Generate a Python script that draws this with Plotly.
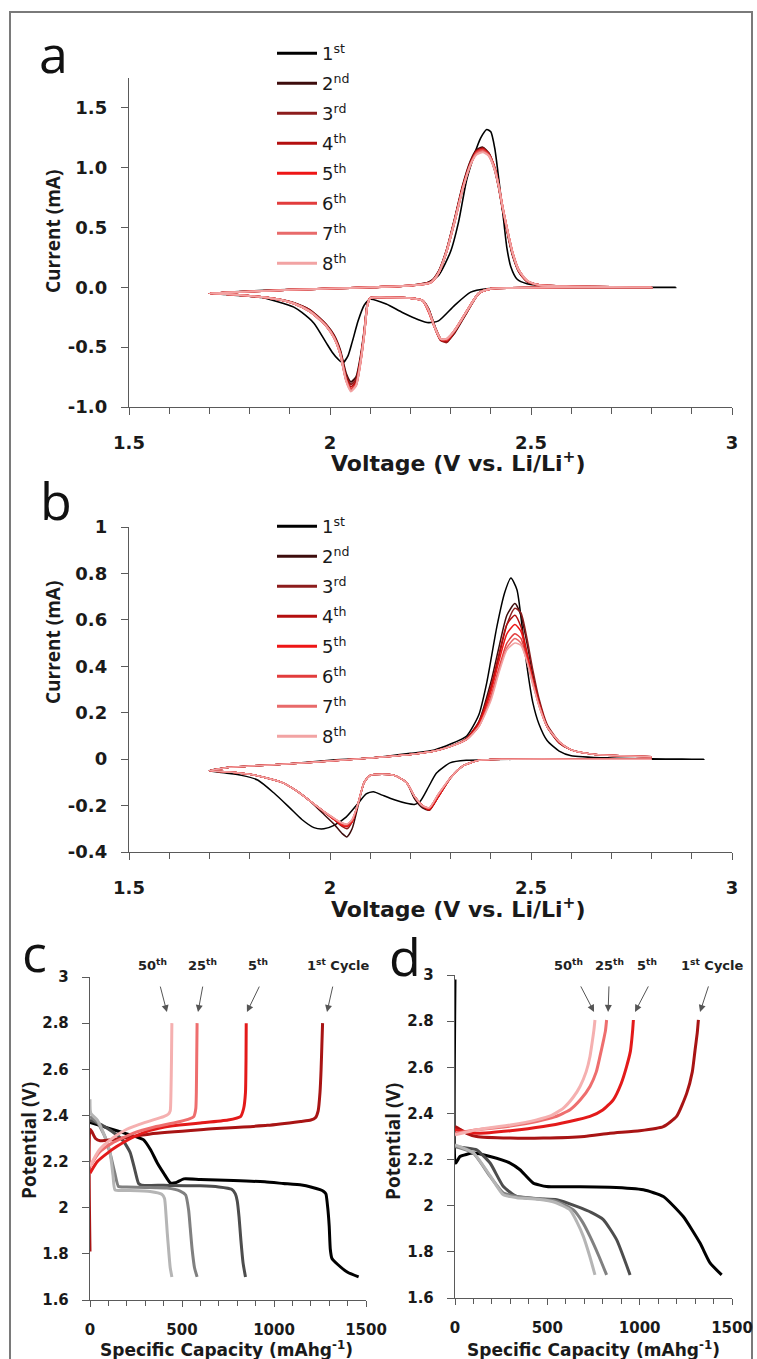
import plotly.graph_objects as go

W, H = 757, 1359

# ---------------- data: panel a (CV, cycles 1-8) ----------------
va_1 = [2.86, 2.60, 2.45, 2.39, 2.35, 2.31, 2.27, 2.245, 2.22, 2.18, 2.14, 2.10, 2.085, 2.07, 2.055, 2.045,
        2.032, 2.02, 2.005, 1.99, 1.96, 1.93, 1.91, 1.87, 1.83, 1.78, 1.74, 1.70,
        1.75, 1.80, 1.90, 2.00, 2.10, 2.20, 2.24, 2.27, 2.30, 2.32, 2.34, 2.36, 2.375, 2.39, 2.40, 2.41,
        2.42, 2.43, 2.44, 2.45, 2.465, 2.49, 2.53, 2.60, 2.70, 2.86]
ia_1 = [0.0, 0.0, -0.005, -0.012, -0.04, -0.15, -0.28, -0.295, -0.27, -0.21, -0.14, -0.1, -0.15, -0.28, -0.46, -0.57,
        -0.63, -0.6, -0.54, -0.46, -0.3, -0.21, -0.165, -0.12, -0.085, -0.07, -0.06, -0.05,
        -0.04, -0.03, -0.018, -0.01, 0.0, 0.015, 0.035, 0.1, 0.3, 0.55, 0.9, 1.12, 1.25, 1.32, 1.3, 1.16,
        0.9, 0.62, 0.33, 0.17, 0.07, 0.03, 0.015, 0.008, 0.003, 0.0]

va_red = [2.80, 2.60, 2.45, 2.40, 2.37, 2.34, 2.31, 2.29, 2.275, 2.26, 2.245, 2.23, 2.20, 2.15, 2.10, 2.093,
          2.085, 2.075, 2.065, 2.052, 2.04, 2.025, 2.01, 1.99, 1.975, 1.95, 1.91, 1.87, 1.83, 1.78, 1.74, 1.70,
          1.80, 1.90, 2.00, 2.10, 2.20, 2.25, 2.27, 2.29, 2.31, 2.33, 2.35, 2.365, 2.38, 2.395, 2.41, 2.42,
          2.43, 2.445, 2.455, 2.47, 2.49, 2.52, 2.60, 2.70, 2.80]
ia_2 = [0.0, 0.0, -0.005, -0.012, -0.05, -0.21, -0.38, -0.45, -0.43, -0.32, -0.18, -0.11, -0.09, -0.085, -0.09, -0.14,
        -0.37, -0.6, -0.75, -0.79, -0.72, -0.52, -0.4, -0.31, -0.26, -0.19, -0.13, -0.1, -0.08, -0.065, -0.055, -0.05,
        -0.035, -0.02, -0.01, 0.0, 0.015, 0.045, 0.13, 0.31, 0.57, 0.85, 1.06, 1.15, 1.17, 1.12, 0.98, 0.83,
        0.64, 0.4, 0.26, 0.13, 0.05, 0.02, 0.008, 0.003, 0.0]
ia_3 = [0.0, 0.0, -0.005, -0.012, -0.05, -0.21, -0.37, -0.46, -0.44, -0.33, -0.18, -0.11, -0.09, -0.085, -0.09, -0.14,
        -0.38, -0.62, -0.77, -0.81, -0.74, -0.53, -0.41, -0.31, -0.26, -0.19, -0.13, -0.1, -0.08, -0.065, -0.055, -0.05,
        -0.035, -0.02, -0.01, 0.0, 0.015, 0.045, 0.13, 0.31, 0.56, 0.84, 1.05, 1.14, 1.16, 1.12, 0.99, 0.84,
        0.65, 0.41, 0.27, 0.13, 0.05, 0.02, 0.008, 0.003, 0.0]
ia_4 = [0.0, 0.0, -0.005, -0.012, -0.05, -0.2, -0.37, -0.45, -0.44, -0.33, -0.19, -0.11, -0.09, -0.085, -0.09, -0.15,
        -0.39, -0.63, -0.79, -0.83, -0.76, -0.54, -0.41, -0.32, -0.27, -0.2, -0.135, -0.1, -0.08, -0.065, -0.055, -0.05,
        -0.035, -0.02, -0.01, 0.0, 0.015, 0.04, 0.12, 0.3, 0.56, 0.83, 1.04, 1.14, 1.16, 1.11, 0.99, 0.84,
        0.65, 0.41, 0.27, 0.14, 0.055, 0.02, 0.008, 0.003, 0.0]
ia_5 = [0.0, 0.0, -0.005, -0.012, -0.05, -0.2, -0.36, -0.44, -0.43, -0.33, -0.2, -0.11, -0.09, -0.085, -0.09, -0.15,
        -0.39, -0.64, -0.81, -0.85, -0.77, -0.55, -0.42, -0.32, -0.27, -0.2, -0.135, -0.1, -0.08, -0.065, -0.055, -0.05,
        -0.035, -0.02, -0.01, 0.0, 0.015, 0.04, 0.12, 0.3, 0.55, 0.83, 1.03, 1.13, 1.15, 1.11, 0.99, 0.84,
        0.66, 0.42, 0.28, 0.14, 0.055, 0.02, 0.008, 0.003, 0.0]
ia_6 = [0.0, 0.0, -0.005, -0.012, -0.05, -0.2, -0.36, -0.44, -0.43, -0.33, -0.2, -0.11, -0.09, -0.085, -0.09, -0.15,
        -0.4, -0.64, -0.81, -0.85, -0.77, -0.55, -0.42, -0.32, -0.27, -0.2, -0.135, -0.1, -0.08, -0.065, -0.055, -0.05,
        -0.035, -0.02, -0.01, 0.0, 0.015, 0.04, 0.12, 0.3, 0.55, 0.82, 1.03, 1.13, 1.15, 1.11, 1.0, 0.85,
        0.66, 0.42, 0.28, 0.14, 0.055, 0.02, 0.008, 0.003, 0.0]
ia_7 = [0.0, 0.0, -0.005, -0.012, -0.05, -0.2, -0.36, -0.43, -0.43, -0.33, -0.19, -0.11, -0.09, -0.085, -0.09, -0.15,
        -0.4, -0.65, -0.82, -0.86, -0.78, -0.55, -0.42, -0.32, -0.27, -0.2, -0.135, -0.1, -0.08, -0.065, -0.055, -0.05,
        -0.035, -0.02, -0.01, 0.0, 0.015, 0.04, 0.12, 0.3, 0.55, 0.82, 1.03, 1.12, 1.14, 1.1, 0.98, 0.84,
        0.66, 0.42, 0.28, 0.14, 0.055, 0.02, 0.008, 0.003, 0.0]
ia_8 = [0.0, 0.0, -0.005, -0.012, -0.05, -0.2, -0.36, -0.43, -0.43, -0.33, -0.19, -0.11, -0.09, -0.085, -0.09, -0.15,
        -0.4, -0.65, -0.82, -0.87, -0.78, -0.55, -0.42, -0.32, -0.27, -0.2, -0.135, -0.1, -0.08, -0.065, -0.055, -0.05,
        -0.035, -0.02, -0.01, 0.0, 0.015, 0.04, 0.12, 0.3, 0.55, 0.82, 1.03, 1.11, 1.13, 1.1, 0.98, 0.84,
        0.66, 0.42, 0.28, 0.14, 0.06, 0.02, 0.008, 0.003, 0.0]

# ---------------- data: panel b (CV, cycles 1-8) ----------------
vb_1 = [2.93, 2.70, 2.50, 2.40, 2.34, 2.30, 2.265, 2.245, 2.225, 2.21, 2.19, 2.16, 2.13, 2.108, 2.09, 2.07,
        2.04, 2.01, 1.985, 1.96, 1.93, 1.90, 1.86, 1.82, 1.78, 1.74, 1.70,
        1.75, 1.80, 1.90, 2.00, 2.10, 2.20, 2.26, 2.30, 2.34, 2.37, 2.39, 2.415, 2.435, 2.45, 2.465, 2.478,
        2.49, 2.505, 2.52, 2.54, 2.57, 2.60, 2.70, 2.80, 2.93]
ib_1 = [0.0, 0.0, 0.0, -0.002, -0.005, -0.015, -0.06, -0.12, -0.18, -0.195, -0.19, -0.175, -0.155, -0.14, -0.15, -0.19,
        -0.25, -0.285, -0.3, -0.295, -0.26, -0.21, -0.145, -0.09, -0.07, -0.06, -0.05,
        -0.035, -0.03, -0.02, -0.005, 0.005, 0.025, 0.04, 0.065, 0.1, 0.19, 0.33, 0.57, 0.72, 0.78, 0.73, 0.57,
        0.4, 0.24, 0.15, 0.08, 0.035, 0.015, 0.005, 0.002, 0.0]

vb_red = [2.80, 2.60, 2.45, 2.40, 2.37, 2.33, 2.30, 2.27, 2.247, 2.23, 2.21, 2.19, 2.16, 2.13, 2.10, 2.085,
          2.07, 2.055, 2.042, 2.03, 2.01, 1.98, 1.95, 1.92, 1.88, 1.84, 1.80, 1.75, 1.70,
          1.75, 1.80, 1.90, 2.00, 2.10, 2.20, 2.26, 2.30, 2.34, 2.37, 2.40, 2.42, 2.44, 2.46, 2.475, 2.49,
          2.505, 2.52, 2.54, 2.57, 2.60, 2.66, 2.72, 2.80]
ib_2 = [0.0, 0.0, 0.0, -0.002, -0.005, -0.03, -0.08, -0.16, -0.22, -0.21, -0.17, -0.1, -0.07, -0.065, -0.07, -0.1,
        -0.2, -0.3, -0.335, -0.32, -0.28, -0.23, -0.18, -0.14, -0.1, -0.08, -0.065, -0.055, -0.05,
        -0.035, -0.03, -0.02, -0.008, 0.005, 0.02, 0.035, 0.055, 0.09, 0.16, 0.33, 0.48, 0.62, 0.67, 0.62, 0.5,
        0.36, 0.25, 0.14, 0.07, 0.04, 0.02, 0.015, 0.01]
ib_3 = [0.0, 0.0, 0.0, -0.002, -0.005, -0.03, -0.08, -0.16, -0.215, -0.2, -0.16, -0.1, -0.07, -0.065, -0.07, -0.1,
        -0.19, -0.27, -0.3, -0.29, -0.26, -0.22, -0.18, -0.14, -0.1, -0.08, -0.065, -0.055, -0.05,
        -0.035, -0.03, -0.02, -0.008, 0.005, 0.02, 0.035, 0.055, 0.085, 0.15, 0.3, 0.44, 0.58, 0.65, 0.63, 0.52,
        0.38, 0.26, 0.15, 0.075, 0.04, 0.02, 0.015, 0.01]
ib_4 = [0.0, 0.0, 0.0, -0.002, -0.005, -0.03, -0.08, -0.16, -0.22, -0.2, -0.16, -0.1, -0.07, -0.065, -0.07, -0.1,
        -0.19, -0.27, -0.29, -0.285, -0.26, -0.22, -0.18, -0.14, -0.1, -0.08, -0.065, -0.055, -0.05,
        -0.035, -0.03, -0.02, -0.008, 0.005, 0.02, 0.035, 0.055, 0.09, 0.16, 0.31, 0.45, 0.58, 0.62, 0.57, 0.46,
        0.34, 0.24, 0.14, 0.07, 0.04, 0.02, 0.015, 0.01]
ib_5 = [0.0, 0.0, 0.0, -0.002, -0.005, -0.03, -0.08, -0.16, -0.215, -0.2, -0.16, -0.1, -0.07, -0.065, -0.07, -0.1,
        -0.19, -0.27, -0.29, -0.285, -0.26, -0.22, -0.18, -0.14, -0.1, -0.08, -0.065, -0.055, -0.05,
        -0.035, -0.03, -0.02, -0.008, 0.005, 0.02, 0.035, 0.055, 0.085, 0.15, 0.29, 0.42, 0.54, 0.58, 0.55, 0.45,
        0.34, 0.24, 0.14, 0.075, 0.04, 0.02, 0.015, 0.01]
ib_6 = [0.0, 0.0, 0.0, -0.002, -0.005, -0.03, -0.08, -0.15, -0.21, -0.2, -0.16, -0.1, -0.07, -0.065, -0.07, -0.1,
        -0.19, -0.265, -0.285, -0.28, -0.255, -0.22, -0.18, -0.14, -0.1, -0.08, -0.065, -0.055, -0.05,
        -0.035, -0.03, -0.02, -0.008, 0.005, 0.02, 0.035, 0.055, 0.085, 0.14, 0.27, 0.39, 0.5, 0.54, 0.52, 0.43,
        0.33, 0.23, 0.14, 0.075, 0.04, 0.02, 0.015, 0.01]
ib_7 = [0.0, 0.0, 0.0, -0.002, -0.005, -0.03, -0.08, -0.15, -0.21, -0.2, -0.16, -0.1, -0.07, -0.065, -0.07, -0.1,
        -0.19, -0.26, -0.28, -0.275, -0.255, -0.22, -0.18, -0.14, -0.1, -0.08, -0.065, -0.055, -0.05,
        -0.035, -0.03, -0.02, -0.008, 0.005, 0.02, 0.035, 0.055, 0.085, 0.14, 0.26, 0.38, 0.48, 0.52, 0.5, 0.42,
        0.32, 0.23, 0.14, 0.075, 0.04, 0.02, 0.015, 0.01]
ib_8 = [0.0, 0.0, 0.0, -0.002, -0.005, -0.03, -0.08, -0.15, -0.21, -0.2, -0.16, -0.1, -0.07, -0.065, -0.07, -0.1,
        -0.19, -0.26, -0.28, -0.275, -0.255, -0.22, -0.18, -0.14, -0.1, -0.08, -0.065, -0.055, -0.05,
        -0.035, -0.03, -0.02, -0.008, 0.005, 0.02, 0.035, 0.055, 0.085, 0.14, 0.25, 0.37, 0.47, 0.5, 0.49, 0.42,
        0.32, 0.23, 0.14, 0.075, 0.04, 0.02, 0.015, 0.01]

cycle_labels = ["1<sup>st</sup>", "2<sup>nd</sup>", "3<sup>rd</sup>", "4<sup>th</sup>",
                "5<sup>th</sup>", "6<sup>th</sup>", "7<sup>th</sup>", "8<sup>th</sup>"]

# ---------------- data: panels c and d (galvanostatic cycling) ----------------
c_dis_1_cap = [0, 100, 200, 290, 330, 365, 400, 436, 464, 510, 600, 780, 950, 1050, 1150, 1200, 1250, 1270,
               1282, 1292, 1300, 1306, 1315, 1345, 1400, 1460]
c_dis_1_v = [2.37, 2.345, 2.32, 2.295, 2.25, 2.195, 2.15, 2.108, 2.108, 2.125, 2.122, 2.118, 2.112, 2.105, 2.098,
             2.09, 2.078, 2.07, 2.06, 2.0, 1.92, 1.82, 1.78, 1.755, 1.72, 1.70]
c_dis_5_cap = [0, 60, 120, 180, 218, 245, 264, 280, 400, 600, 700, 770, 790, 800, 810, 820, 832, 845]
c_dis_5_v = [2.38, 2.36, 2.33, 2.29, 2.24, 2.16, 2.105, 2.098, 2.097, 2.095, 2.09, 2.08, 2.06, 2.03, 1.96, 1.86,
             1.76, 1.70]
c_dis_25_cap = [0, 40, 80, 109, 135, 155, 200, 300, 418, 490, 520, 536, 545, 555, 568, 582]
c_dis_25_v = [2.395, 2.37, 2.31, 2.236, 2.15, 2.092, 2.09, 2.088, 2.085, 2.072, 2.055, 1.99, 1.91, 1.82, 1.74, 1.70]
c_dis_50_cap = [0, 4, 40, 80, 109, 125, 136, 200, 327, 390, 405, 413, 420, 427, 436, 445]
c_dis_50_v = [2.47, 2.41, 2.38, 2.31, 2.24, 2.14, 2.077, 2.075, 2.07, 2.058, 2.04, 1.97, 1.89, 1.82, 1.74, 1.70]

c_chg_1_cap = [0, 0, 10, 30, 55, 120, 327, 600, 964, 1145, 1200, 1225, 1240, 1250, 1256, 1260, 1264]
c_chg_1_v = [1.81, 2.34, 2.33, 2.30, 2.29, 2.295, 2.32, 2.338, 2.357, 2.374, 2.38, 2.39, 2.42, 2.5, 2.6, 2.7, 2.80]
c_chg_5_cap = [0, 40, 100, 145, 220, 327, 450, 600, 750, 818, 835, 845, 848, 849]
c_chg_5_v = [2.15, 2.2, 2.24, 2.265, 2.3, 2.335, 2.355, 2.367, 2.38, 2.395, 2.43, 2.5, 2.65, 2.80]
c_chg_25_cap = [0, 50, 120, 236, 350, 490, 540, 564, 575, 578, 580, 582]
c_chg_25_v = [2.18, 2.24, 2.28, 2.323, 2.35, 2.374, 2.385, 2.395, 2.43, 2.5, 2.65, 2.80]
c_chg_50_cap = [0, 50, 120, 200, 300, 400, 425, 436, 440, 443, 445]
c_chg_50_v = [2.18, 2.25, 2.3, 2.34, 2.37, 2.395, 2.405, 2.42, 2.5, 2.65, 2.80]

d_dis_1_cap = [0, 0, 5, 27, 99, 190, 298, 352, 424, 496, 650, 839, 1020, 1128, 1236, 1327, 1381, 1444]
d_dis_1_v = [2.98, 2.19, 2.185, 2.213, 2.228, 2.213, 2.185, 2.156, 2.098, 2.083, 2.082, 2.08, 2.069, 2.04, 1.953,
             1.838, 1.752, 1.70]
d_dis_5_cap = [0, 60, 117, 190, 262, 334, 450, 551, 659, 740, 803, 875, 948]
d_dis_5_v = [2.257, 2.25, 2.242, 2.185, 2.083, 2.04, 2.03, 2.026, 1.997, 1.97, 1.94, 1.853, 1.70]
d_dis_25_cap = [0, 99, 190, 262, 334, 450, 551, 641, 690, 731, 780, 821]
d_dis_25_v = [2.257, 2.228, 2.127, 2.055, 2.04, 2.03, 2.019, 1.982, 1.93, 1.867, 1.78, 1.70]
d_dis_50_cap = [0, 99, 190, 262, 334, 450, 540, 623, 660, 695, 730, 758]
d_dis_50_v = [2.264, 2.23, 2.13, 2.047, 2.035, 2.028, 2.015, 1.982, 1.93, 1.867, 1.78, 1.70]

d_chg_1_cap = [0, 30, 63, 117, 300, 478, 700, 839, 1000, 1128, 1200, 1255, 1285, 1300, 1312, 1318]
d_chg_1_v = [2.343, 2.33, 2.314, 2.30, 2.293, 2.293, 2.30, 2.314, 2.325, 2.343, 2.387, 2.488, 2.58, 2.675, 2.75, 2.805]
d_chg_5_cap = [0, 117, 300, 478, 620, 731, 800, 857, 900, 929, 950, 957, 962, 966]
d_chg_5_v = [2.329, 2.314, 2.325, 2.343, 2.365, 2.387, 2.415, 2.459, 2.53, 2.603, 2.67, 2.718, 2.76, 2.805]
d_chg_25_cap = [0, 117, 300, 442, 540, 623, 680, 731, 765, 785, 805, 815, 821]
d_chg_25_v = [2.314, 2.329, 2.345, 2.365, 2.385, 2.416, 2.46, 2.517, 2.58, 2.647, 2.72, 2.76, 2.805]
d_chg_50_cap = [0, 117, 300, 442, 520, 587, 640, 677, 710, 731, 745, 752, 758]
d_chg_50_v = [2.307, 2.329, 2.35, 2.372, 2.39, 2.423, 2.47, 2.517, 2.58, 2.647, 2.72, 2.76, 2.805]

cycle_tags = ["50<sup>th</sup>", "25<sup>th</sup>", "5<sup>th</sup>", "1<sup>st</sup> Cycle"]

# ---------------- styling ----------------
cv_colors = ["#000000", "#3d0c0c", "#8c1c1c", "#b40f0f", "#ee1515", "#e23c3c", "#e86a6a", "#f2a3a3"]
chg_colors = {"1": "#a81414", "5": "#e31a1a", "25": "#ee6e6e", "50": "#f5b0b0"}
dis_colors = {"1": "#000000", "5": "#4d4d4d", "25": "#808080", "50": "#b5b5b5"}
AX = "#5a5a5a"
TXT = "#1a1a1a"


def px(x):
    return x / W


def py(y):
    return 1 - y / H


fig = go.Figure()

# panel a
a_curves = [(va_1, ia_1), (va_red, ia_2), (va_red, ia_3), (va_red, ia_4),
            (va_red, ia_5), (va_red, ia_6), (va_red, ia_7), (va_red, ia_8)]
for k, (vx, iy) in enumerate(a_curves):
    fig.add_trace(go.Scatter(x=vx, y=iy, mode="lines", xaxis="x", yaxis="y", showlegend=False,
                             line=dict(color=cv_colors[k], width=1.6 if k == 0 else 2.0,
                                       shape="spline", smoothing=0.6)))
for k, lab in enumerate(cycle_labels):
    fig.add_trace(go.Scatter(x=[None], y=[None], mode="lines", xaxis="x", yaxis="y", name=lab,
                             legend="legend", legendgroup="a%d" % k,
                             line=dict(color=cv_colors[k], width=3)))

# panel b
b_curves = [(vb_1, ib_1), (vb_red, ib_2), (vb_red, ib_3), (vb_red, ib_4),
            (vb_red, ib_5), (vb_red, ib_6), (vb_red, ib_7), (vb_red, ib_8)]
for k, (vx, iy) in enumerate(b_curves):
    fig.add_trace(go.Scatter(x=vx, y=iy, mode="lines", xaxis="x2", yaxis="y2", showlegend=False,
                             line=dict(color=cv_colors[k], width=1.5, shape="spline", smoothing=0.6)))
for k, lab in enumerate(cycle_labels):
    fig.add_trace(go.Scatter(x=[None], y=[None], mode="lines", xaxis="x2", yaxis="y2", name=lab,
                             legend="legend2", legendgroup="b%d" % k,
                             line=dict(color=cv_colors[k], width=3)))

# panels c and d
c_dis = [("1", c_dis_1_cap, c_dis_1_v), ("5", c_dis_5_cap, c_dis_5_v),
         ("25", c_dis_25_cap, c_dis_25_v), ("50", c_dis_50_cap, c_dis_50_v)]
c_chg = [("1", c_chg_1_cap, c_chg_1_v), ("5", c_chg_5_cap, c_chg_5_v),
         ("25", c_chg_25_cap, c_chg_25_v), ("50", c_chg_50_cap, c_chg_50_v)]
d_dis = [("1", d_dis_1_cap, d_dis_1_v), ("5", d_dis_5_cap, d_dis_5_v),
         ("25", d_dis_25_cap, d_dis_25_v), ("50", d_dis_50_cap, d_dis_50_v)]
d_chg = [("1", d_chg_1_cap, d_chg_1_v), ("5", d_chg_5_cap, d_chg_5_v),
         ("25", d_chg_25_cap, d_chg_25_v), ("50", d_chg_50_cap, d_chg_50_v)]

for (xa, ya, dis, chg) in [("x3", "y3", c_dis, c_chg), ("x4", "y4", d_dis, d_chg)]:
    for key, cx, cy in dis:
        fig.add_trace(go.Scatter(x=cx, y=cy, mode="lines", xaxis=xa, yaxis=ya, showlegend=False,
                                 line=dict(color=dis_colors[key], width=3, shape="spline", smoothing=0.5)))
    for key, cx, cy in chg:
        fig.add_trace(go.Scatter(x=cx, y=cy, mode="lines", xaxis=xa, yaxis=ya, showlegend=False,
                                 line=dict(color=chg_colors[key], width=3, shape="spline", smoothing=0.5)))

tick_font = dict(family="DejaVu Sans", size=18, color=TXT, weight="bold")
small_tick_font = dict(family="DejaVu Sans", size=15, color=TXT, weight="bold")


def base_axis(**kw):
    d = dict(showgrid=False, zeroline=False, showline=True, linecolor=AX, linewidth=1.4,
             ticks="outside", tickcolor=AX, tickwidth=1.2, ticklen=7, fixedrange=True,
             automargin=False)
    d.update(kw)
    return d


cv_xt = [1.5, 2, 2.5, 3]
cv_xl = ["1.5", "2", "2.5", "3"]
cv_minor = [1.6, 1.7, 1.8, 1.9, 2.1, 2.2, 2.3, 2.4, 2.6, 2.7, 2.8, 2.9]
cap_xt = [0, 500, 1000, 1500]
cap_minor = [100, 200, 300, 400, 600, 700, 800, 900, 1100, 1200, 1300, 1400]
pot_yt = [1.6, 1.8, 2.0, 2.2, 2.4, 2.6, 2.8, 3.0]
pot_yl = ["1.6", "1.8", "2", "2.2", "2.4", "2.6", "2.8", "3"]

fig.update_layout(
    width=W, height=H, margin=dict(l=0, r=0, t=0, b=0, autoexpand=False),
    paper_bgcolor="white", plot_bgcolor="white",
    xaxis=base_axis(domain=[px(129), px(732)], range=[1.5, 3.0], anchor="y",
                    tickvals=cv_xt, ticktext=cv_xl, tickfont=tick_font, ticklabelstandoff=12,
                    minor=dict(tickmode="array", tickvals=cv_minor, ticks="outside", ticklen=6,
                               tickcolor=AX, tickwidth=1.2)),
    yaxis=base_axis(domain=[py(407), py(78)], range=[-1.0, 1.75], anchor="x",
                    tickvals=[-1.0, -0.5, 0.0, 0.5, 1.0, 1.5],
                    ticktext=["-1.0", "-0.5", "0.0", "0.5", "1.0", "1.5"], tickfont=tick_font,
                    ticklabelstandoff=10),
    xaxis2=base_axis(domain=[px(129), px(732)], range=[1.5, 3.0], anchor="y2",
                     tickvals=cv_xt, ticktext=cv_xl, tickfont=tick_font, ticklabelstandoff=12,
                     minor=dict(tickmode="array", tickvals=cv_minor, ticks="outside", ticklen=6,
                                tickcolor=AX, tickwidth=1.2)),
    yaxis2=base_axis(domain=[py(852), py(527)], range=[-0.4, 1.0], anchor="x2",
                     tickvals=[-0.4, -0.2, 0, 0.2, 0.4, 0.6, 0.8, 1.0],
                     ticktext=["-0.4", "-0.2", "0", "0.2", "0.4", "0.6", "0.8", "1"], tickfont=tick_font,
                     ticklabelstandoff=10),
    xaxis3=base_axis(domain=[px(90), px(366)], range=[0, 1500], anchor="y3",
                     tickvals=cap_xt, ticktext=["0", "500", "1000", "1500"], tickfont=small_tick_font,
                     ticklabelstandoff=10, ticklen=6,
                     minor=dict(tickmode="array", tickvals=cap_minor, ticks="outside", ticklen=5,
                                tickcolor=AX, tickwidth=1.2)),
    yaxis3=base_axis(domain=[py(1300), py(977)], range=[1.6, 3.0], anchor="x3",
                     tickvals=pot_yt, ticktext=pot_yl, tickfont=small_tick_font, ticklabelstandoff=10),
    xaxis4=base_axis(domain=[px(455), px(732)], range=[0, 1500], anchor="y4",
                     tickvals=cap_xt, ticktext=["0", "500", "1000", "1500"], tickfont=small_tick_font,
                     ticklabelstandoff=10, ticklen=6,
                     minor=dict(tickmode="array", tickvals=cap_minor, ticks="outside", ticklen=5,
                                tickcolor=AX, tickwidth=1.2)),
    yaxis4=base_axis(domain=[py(1298), py(975)], range=[1.6, 3.0], anchor="x4",
                     tickvals=pot_yt, ticktext=pot_yl, tickfont=small_tick_font, ticklabelstandoff=10),
    legend=dict(x=px(272), y=py(35), xanchor="left", yanchor="top", traceorder="grouped",
                tracegroupgap=3.6, bgcolor="rgba(0,0,0,0)", itemwidth=40,
                font=dict(family="DejaVu Sans", size=18, color=TXT)),
    legend2=dict(x=px(272), y=py(508), xanchor="left", yanchor="top", traceorder="grouped",
                 tracegroupgap=3.6, bgcolor="rgba(0,0,0,0)", itemwidth=40,
                 font=dict(family="DejaVu Sans", size=18, color=TXT)),
)

ann = []
# panel letters
for txt, x, y in [("a", 53, 52), ("b", 56, 500), ("c", 34, 952), ("d", 405, 955)]:
    ann.append(dict(text=txt, x=px(x), y=py(y), xref="paper", yref="paper", showarrow=False,
                    xanchor="center", yanchor="middle",
                    font=dict(family="Open Sans", size=52, color="#111111")))

title_h = dict(family="DejaVu Sans", size=22, color=TXT, weight="bold")
title_v = dict(family="Open Sans", size=19, color=TXT, weight="bold")
cap_title = dict(family="DejaVu Sans", size=17, color=TXT, weight="bold")
axis_titles = [
    dict(text="Voltage (V vs. Li/Li<sup>+</sup>)", x=px(458), y=py(462), font=title_h),
    dict(text="Voltage (V vs. Li/Li<sup>+</sup>)", x=px(458), y=py(908), font=title_h),
    dict(text="Current (mA)", x=px(53), y=py(232), font=title_v, textangle=-90),
    dict(text="Current (mA)", x=px(53), y=py(643), font=title_v, textangle=-90),
    dict(text="Potential (V)", x=px(29), y=py(1141), font=title_v, textangle=-90),
    dict(text="Potential (V)", x=px(393), y=py(1141), font=title_v, textangle=-90),
    dict(text="Specific Capacity (mAhg<sup>-1</sup>)", x=px(226), y=py(1349), font=cap_title),
    dict(text="Specific Capacity (mAhg<sup>-1</sup>)", x=px(593), y=py(1349), font=cap_title),
]
for a in axis_titles:
    a.update(xref="paper", yref="paper", showarrow=False, xanchor="center", yanchor="middle")
ann += axis_titles

# cycle tags with arrows in panels c and d
tag_font = dict(family="DejaVu Sans", size=13, color="#222222", weight="bold")
c_tag_x = [337, 614, 913, 1348]
c_arrow_tail = [(380, 2.965), (614, 2.965), (924, 2.965), (1321, 2.965)]
c_arrow_tip = [(418, 2.848), (587, 2.848), (853, 2.848), (1288, 2.848)]
d_tag_x = [617, 839, 1040, 1392]
d_arrow_tail = [(677, 2.957), (834, 2.957), (1051, 2.957), (1375, 2.957)]
d_arrow_tip = [(753, 2.84), (829, 2.84), (975, 2.84), (1327, 2.84)]
for xa, ya, tx, tails, tips in [("x3", "y3", c_tag_x, c_arrow_tail, c_arrow_tip),
                                ("x4", "y4", d_tag_x, d_arrow_tail, d_arrow_tip)]:
    for k, lab in enumerate(cycle_tags):
        ann.append(dict(text=lab, x=tx[k], y=py(965), xref=xa, yref="paper", showarrow=False,
                        xanchor="center", yanchor="middle", font=tag_font))
        ann.append(dict(text="", x=tips[k][0], y=tips[k][1], xref=xa, yref=ya,
                        ax=tails[k][0], ay=tails[k][1], axref=xa, ayref=ya, showarrow=True,
                        arrowhead=2, arrowsize=1.4, arrowwidth=1, arrowcolor="#555555", standoff=0))

fig.update_layout(annotations=ann)

# outer frame of the figure
fig.add_shape(type="rect", xref="paper", yref="paper", x0=px(10), x1=px(752), y0=-0.05, y1=py(12),
              line=dict(color="#7a7a7a", width=2), layer="below")

fig.write_html("out.html")
